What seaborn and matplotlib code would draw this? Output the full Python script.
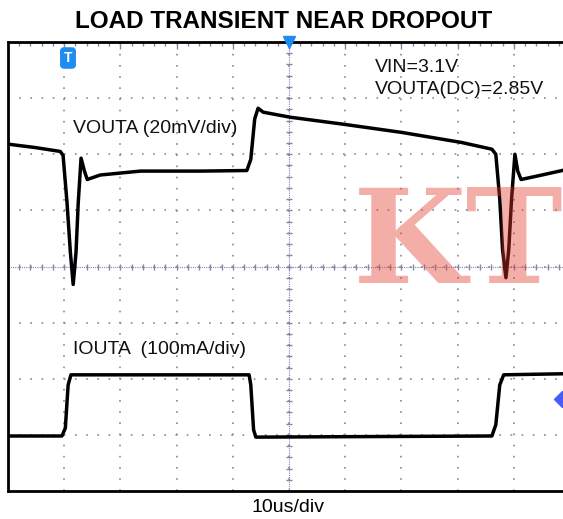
import numpy as np
import pandas as pd
import seaborn as sns
import matplotlib.pyplot as plt

# scope capture: time in us (10us/div, trigger at 0), traces in screen divisions
vout_time = [-50, -45.2, -40.7, -40.2, -39.5, -38.9, -38.4, -37.9, -37.5, -37.0,
             -36.4, -35.9, -33.6, -26.4, -15.7, -7.5, -6.8, -6.1, -5.5, -4.6,
             0.2, 9.3, 20.0, 30.7, 36.1, 36.8, 37.5, 38.0, 38.6, 39.1,
             39.6, 40.2, 40.7, 41.3, 45.0, 49.5]
vout_div = [2.18, 2.12, 2.05, 1.98, 1.14, 0.25, -0.32, 0.25, 1.14, 1.93,
            1.70, 1.55, 1.63, 1.70, 1.70, 1.71, 1.91, 2.63, 2.82, 2.75,
            2.66, 2.54, 2.39, 2.21, 2.09, 2.00, 1.20, 0.30, -0.20, 0.30,
            1.20, 2.00, 1.70, 1.55, 1.63, 1.73]

iout_time = [-50, -40.4, -39.8, -39.3, -38.8, -7.1, -6.8, -6.3, -5.9,
             36.1, 36.8, 37.5, 38.2, 49.5]
iout_div = [-3.02, -3.02, -2.88, -2.11, -1.93, -1.93, -2.11, -2.91, -3.04,
            -3.02, -2.82, -2.11, -1.93, -1.91]

title = 'LOAD TRANSIENT NEAR DROPOUT'
ch1_label = 'VOUTA (20mV/div)'
ch2_label = 'IOUTA  (100mA/div)'
cond_labels = ['VIN=3.1V', 'VOUTA(DC)=2.85V']
time_label = '10us/div'

sns.set_style('white')
plt.rcParams['font.family'] = ['Liberation Sans', 'DejaVu Sans']
plt.rcParams['text.color'] = 'black'

grid_col = '#8585a8'
W, H = 563, 519

fig = plt.figure(figsize=(W / 100, H / 100), dpi=100)
# axes runs a few pixels past the right edge, like the cropped screenshot
ax = fig.add_axes([8 / W, 28 / H, 562 / W, 449 / H])

df1 = pd.DataFrame({'t': vout_time, 'v': vout_div})
df2 = pd.DataFrame({'t': iout_time, 'v': iout_div})
sns.lineplot(data=df1, x='t', y='v', ax=ax, color='black', lw=2.5,
             estimator=None, sort=False, zorder=5)
sns.lineplot(data=df2, x='t', y='v', ax=ax, color='black', lw=2.5,
             estimator=None, sort=False, zorder=5)

ax.set_xlim(-50, 50)
ax.set_ylim(-4, 4)
ax.set_xticks(np.arange(-50, 51, 10))
ax.set_yticks(np.arange(-4, 5, 1))
ax.set_xticks(np.arange(-50, 51, 2), minor=True)
ax.set_yticks(np.arange(-4, 4.01, 0.2), minor=True)
ax.tick_params(which='both', direction='in', top=True, right=True,
               color=grid_col, labelbottom=False, labelleft=False)
ax.tick_params(which='major', length=5, width=1)
ax.tick_params(which='minor', length=3, width=1)
ax.set_xlabel('')
ax.set_ylabel('')
ax.grid(True, which='major', color=grid_col, lw=1.2, linestyle=(0, (1, 5.7)))

# centre cross with its small ticks
ax.axhline(0, color=grid_col, lw=0.8, linestyle=(0, (1, 1)), zorder=1)
ax.axvline(0, color=grid_col, lw=0.8, linestyle=(0, (1, 1)), zorder=1)
mt = np.arange(-50, 51, 2)
ax.plot(mt, np.zeros_like(mt), ls='', marker='|', ms=5, mew=1, color=grid_col, zorder=1)
mv = np.arange(-4, 4.01, 0.2)
ax.plot(np.zeros_like(mv), mv, ls='', marker='_', ms=5, mew=1, color=grid_col, zorder=1)

for s in ax.spines.values():
    s.set_color('black')
    s.set_linewidth(2)

# scope markers
ax.plot([0], [4], marker='v', ms=9, color='#1e8cf0', clip_on=False, zorder=6)
ax.plot([48.5], [-2.36], marker='D', ms=8, color='#4a5cf5', clip_on=False, zorder=6)
fig.text(68 / W, 1 - 58 / H, 'T', color='white', fontsize=10, fontweight='bold',
         ha='center', va='center',
         bbox=dict(boxstyle='round,pad=0.22', fc='#1e8cf0', ec='#1e8cf0'))

fig.text(284 / W, 1 - 21 / H, title, ha='center', va='center',
         fontsize=17.5, fontweight='bold', color='black')
fig.text(73 / W, 1 - 133 / H, ch1_label, fontsize=14, color='#111111', va='baseline')
fig.text(73 / W, 1 - 354 / H, ch2_label, fontsize=14, color='#111111', va='baseline')
fig.text(375 / W, 1 - 72 / H, cond_labels[0], fontsize=14, color='#111111', va='baseline')
fig.text(375 / W, 1 - 94 / H, cond_labels[1], fontsize=14, color='#111111', va='baseline')
fig.text(288 / W, 1 - 507 / H, time_label, fontsize=14, ha='center', va='center',
         color='black')

# watermark
fig.text(353 / W, 1 - 283 / H, 'KT', fontsize=94, family='DejaVu Serif',
         fontweight='bold', color=(227 / 255, 57 / 255, 37 / 255), alpha=0.4,
         va='baseline', zorder=10)

fig.savefig('out.png', dpi=100)
